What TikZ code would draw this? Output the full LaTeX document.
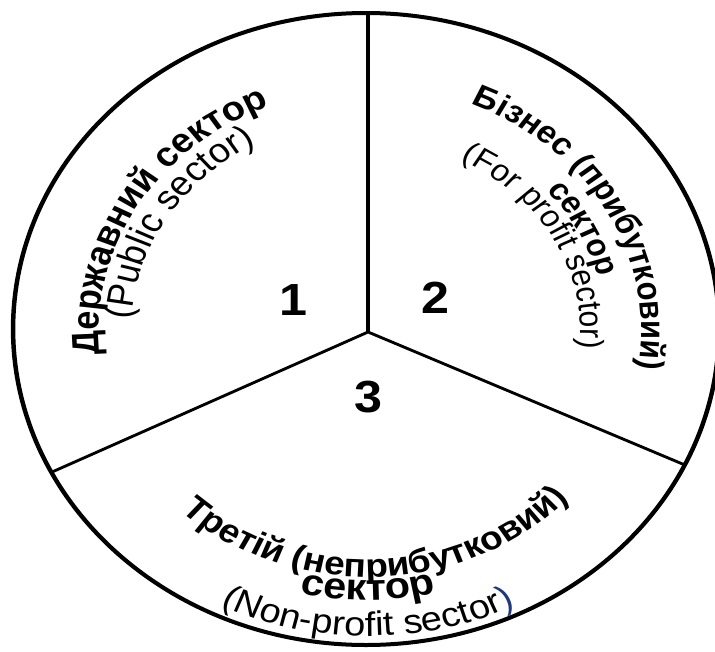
\documentclass[tikz,border=0pt]{standalone}
\usepackage{fontspec}
\setmainfont{Liberation Sans}
\usetikzlibrary{decorations.text}
\definecolor{navyp}{RGB}{31,56,120}
\begin{document}
\begin{tikzpicture}[x=1pt,y=1pt,
  ring/.style={line width=4pt},
  divider/.style={line width=2.8pt},
  num/.style={font=\fontsize{45}{45}\selectfont\bfseries, inner sep=0pt},
  arctext/.style={decorate, decoration={text along path, text={#1}, text align=center}}
]
\useasboundingbox (0,0) rectangle (715,-651);
\fill[white] (0,0) rectangle (715,-651);
\begin{scope}[transform canvas={xscale=1.117}]
\draw[ring] (327.7,-329) circle [radius=316];
\coordinate (c) at (329.5,-332);
\coordinate (top) at (329.5,-13);
\coordinate (left) at (46.6,-472);
\coordinate (right) at (613.2,-465);
\draw[divider] (top) -- (c);
\draw[divider] (left) -- (c) -- (right);
\node[num] (n1) at (262.3,-300) {1};
\node[num] (n2) at (390.3,-298) {2};
\node[num] (n3) at (329.5,-397) {3};
\coordinate (o) at (329.5,-331);
% sector 1
\path[arctext={|\fontsize{34}{34}\selectfont\bfseries|Державний сектор}]
  (o) ++(195:241) arc[start angle=195, end angle=102, radius=241];
\path[arctext={|\fontsize{34}{34}\selectfont|(Public sector)}]
  (o) ++(192:212) arc[start angle=192, end angle=103, radius=212];
% sector 2
\path[arctext={|\fontsize{31}{31}\selectfont\bfseries|Бізнес (прибутковий)}]
  (o) ++(80:245) arc[start angle=80, end angle=-21, radius=245];
\path[arctext={|\fontsize{30}{30}\selectfont\bfseries|сектор}]
  (o) ++(75:213) arc[start angle=75, end angle=-19, radius=213];
\path[arctext={|\fontsize{30}{30}\selectfont|(For profit sector)}]
  (o) ++(80:190) arc[start angle=80, end angle=-21, radius=190];
% sector 3
\path[arctext={|\fontsize{33}{33}\selectfont\bfseries|Третій (неприбутковий)}]
  (o) ++(220:246) arc[start angle=220, end angle=324, radius=246];
\path[arctext={|\fontsize{37}{37}\selectfont\bfseries|сектор}]
  (o) ++(230:269) arc[start angle=230, end angle=310, radius=269];
\path[arctext={|\fontsize{34}{34}\selectfont|(Non-profit sector|\fontsize{34}{34}\selectfont\color{navyp}|)}]
  (o) ++(230:305) arc[start angle=230, end angle=310, radius=305];
\end{scope}
\end{tikzpicture}
\end{document}
